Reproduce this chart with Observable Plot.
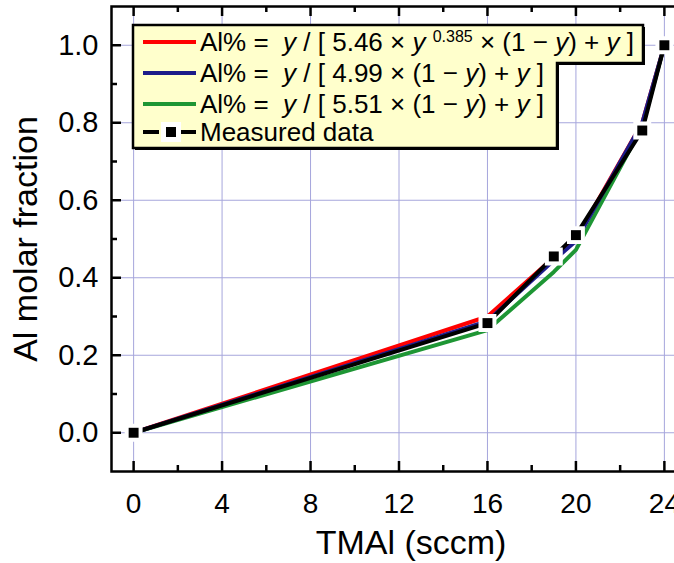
<!DOCTYPE html>
<html>
<head>
<meta charset="utf-8">
<script src="https://cdn.jsdelivr.net/npm/d3@7"></script>
<script src="https://cdn.jsdelivr.net/npm/@observablehq/plot@0.6"></script>
<style>
  html, body { margin: 0; padding: 0; background: white; overflow: hidden; }
  #wrap { position: relative; width: 674px; height: 563px; overflow: hidden; font-family: "Liberation Sans", Arial, sans-serif; }
  #wrap > svg:first-child { max-width: none !important; display: block; }
  #legend { position: absolute; left: 0; top: 0; width: 674px; height: 563px; pointer-events: none; }
  .row { position: absolute; left: 200px; height: 30px; line-height: 30px; font-size: 26px; white-space: pre; color: black; }
  .row i { font-style: italic; }
  .row sup { font-size: 16px; vertical-align: 0; position: relative; top: -9px; }
</style>
</head>
<body>
<div id="wrap"></div>
<script>
// ---- data ----
const tmal = [0, 16, 19, 20, 23, 24];                    // TMAl flow (sccm)
const measured = [0, 0.283, 0.455, 0.51, 0.78, 1.0];     // measured Al molar fraction
const modelRed = [0, 0.300, 0.452, 0.500, 0.800, 1.0];   // y/[5.46 y^0.385 (1-y)+y]
const modelBlue = [0, 0.288, 0.445, 0.495, 0.800, 1.0];  // y/[4.99 (1-y)+y]
const modelGreen = [0, 0.265, 0.415, 0.472, 0.790, 1.0]; // y/[5.51 (1-y)+y]
const xMajor = [0, 4, 8, 12, 16, 20, 24];
const xMinor = [2, 6, 10, 14, 18, 22];
const yMajor = [0, 0.2, 0.4, 0.6, 0.8, 1.0];
const yMinor = [0.1, 0.3, 0.5, 0.7, 0.9];
const xTitle = "TMAl (sccm)";
const yTitle = "Al molar fraction";

const W = 688, H = 563;
const mL = 111, mR = 2, mT = 6, mB = 92;
const innerH = H - mT - mB, innerW = W - mL - mR;
const gridColor = "#a6a6dc";

const series = [
  {name: "red", vals: modelRed, color: "#ff0000"},
  {name: "green", vals: modelGreen, color: "#1e9634"},
  {name: "blue", vals: modelBlue, color: "#1c1c8a"},
  {name: "measured", vals: measured, color: "#000000"}
];

const chart = Plot.plot({
  width: W, height: H,
  marginLeft: mL, marginRight: mR, marginTop: mT, marginBottom: mB,
  style: {fontFamily: "Liberation Sans, Arial, sans-serif", background: "white", overflow: "visible", maxWidth: "none"},
  x: {domain: [-1, 25]},
  y: {domain: [-0.1, 1.1]},
  marks: [
    Plot.gridX(xMajor, {stroke: gridColor, strokeOpacity: 1, strokeWidth: 1}),
    Plot.gridY(yMajor, {stroke: gridColor, strokeOpacity: 1, strokeWidth: 1}),
    ...series.map(s => Plot.line(tmal, {x: d => d, y: (d, i) => s.vals[i], stroke: s.color, strokeWidth: 4})),
    Plot.dot(tmal, {x: d => d, y: (d, i) => measured[i], symbol: "square", r: 5.6, fill: "black", stroke: "white", strokeWidth: 8, paintOrder: "stroke"}),
    // inward ticks
    Plot.tickX(xMajor, {x: d => d, insetTop: innerH - 10, stroke: "black", strokeWidth: 2.5}),
    Plot.tickX(xMinor, {x: d => d, insetTop: innerH - 6, stroke: "black", strokeWidth: 2.5}),
    Plot.tickX(xMajor, {x: d => d, insetBottom: innerH - 10, stroke: "black", strokeWidth: 2.5}),
    Plot.tickX(xMinor, {x: d => d, insetBottom: innerH - 6, stroke: "black", strokeWidth: 2.5}),
    Plot.tickY(yMajor, {y: d => d, insetRight: innerW - 10, stroke: "black", strokeWidth: 2.5}),
    Plot.tickY(yMinor, {y: d => d, insetRight: innerW - 6, stroke: "black", strokeWidth: 2.5}),
    Plot.frame({stroke: "black", strokeWidth: 2.5}),
    Plot.axisX({ticks: xMajor, tickSize: 0, tickPadding: 22, fontSize: 28, label: null}),
    Plot.axisY({ticks: yMajor, tickSize: 0, tickPadding: 13, fontSize: 29, tickFormat: d3.format(".1f"), label: null}),
    Plot.text([xTitle], {frameAnchor: "bottom", dx: 12, dy: 82, lineAnchor: "bottom", textAnchor: "middle", fontSize: 34, fill: "black"}),
    Plot.text([yTitle], {frameAnchor: "left", dx: -85, rotate: -90, textAnchor: "middle", lineAnchor: "middle", fontSize: 34, fill: "black"})
  ]
});
chart.style.maxWidth = "none";

const wrap = document.getElementById("wrap");
wrap.appendChild(chart);

// ---- legend overlay ----
const ns = "http://www.w3.org/2000/svg";
const leg = document.createElementNS(ns, "svg");
leg.setAttribute("id", "legend");
leg.setAttribute("width", 674);
leg.setAttribute("height", 563);
const pts = "133,25 643,25 643,63 557,63 557,148 133,148";
const shadow = document.createElementNS(ns, "polygon");
shadow.setAttribute("points", pts);
shadow.setAttribute("transform", "translate(2,2)");
shadow.setAttribute("fill", "black");
leg.appendChild(shadow);
const box = document.createElementNS(ns, "polygon");
box.setAttribute("points", pts);
box.setAttribute("fill", "#ffffcc");
box.setAttribute("stroke", "black");
box.setAttribute("stroke-width", 2.5);
leg.appendChild(box);

const legendColors = ["#ff0000", "#1c1c8a", "#1e9634"];
const rowY = [42, 73, 104, 132];
legendColors.forEach((c, i) => {
  const l = document.createElementNS(ns, "line");
  l.setAttribute("x1", 143); l.setAttribute("x2", 196);
  l.setAttribute("y1", rowY[i]); l.setAttribute("y2", rowY[i]);
  l.setAttribute("stroke", c); l.setAttribute("stroke-width", 4);
  leg.appendChild(l);
});
[[143, 159], [181, 196]].forEach(([a, b]) => {
  const l = document.createElementNS(ns, "line");
  l.setAttribute("x1", a); l.setAttribute("x2", b);
  l.setAttribute("y1", rowY[3]); l.setAttribute("y2", rowY[3]);
  l.setAttribute("stroke", "black"); l.setAttribute("stroke-width", 4);
  leg.appendChild(l);
});
const ws = document.createElementNS(ns, "rect");
ws.setAttribute("x", 161); ws.setAttribute("y", rowY[3] - 10); ws.setAttribute("width", 20); ws.setAttribute("height", 20);
ws.setAttribute("fill", "white");
leg.appendChild(ws);
const bs = document.createElementNS(ns, "rect");
bs.setAttribute("x", 166); bs.setAttribute("y", rowY[3] - 5); bs.setAttribute("width", 10); bs.setAttribute("height", 10);
bs.setAttribute("fill", "black");
leg.appendChild(bs);
wrap.appendChild(leg);

const rowsHtml = [
  'Al% =  <i>y</i> / [ 5.46 × <i>y</i> <sup>0.385</sup> × (1 − <i>y</i>) + <i>y</i> ]',
  'Al% =  <i>y</i> / [ 4.99 × (1 − <i>y</i>) + <i>y</i> ]',
  'Al% =  <i>y</i> / [ 5.51 × (1 − <i>y</i>) + <i>y</i> ]',
  'Measured data'
];
rowsHtml.forEach((h, i) => {
  const d = document.createElement("div");
  d.className = "row";
  d.style.top = (rowY[i] - 15) + "px";
  d.innerHTML = h;
  wrap.appendChild(d);
});
</script>
</body>
</html>
